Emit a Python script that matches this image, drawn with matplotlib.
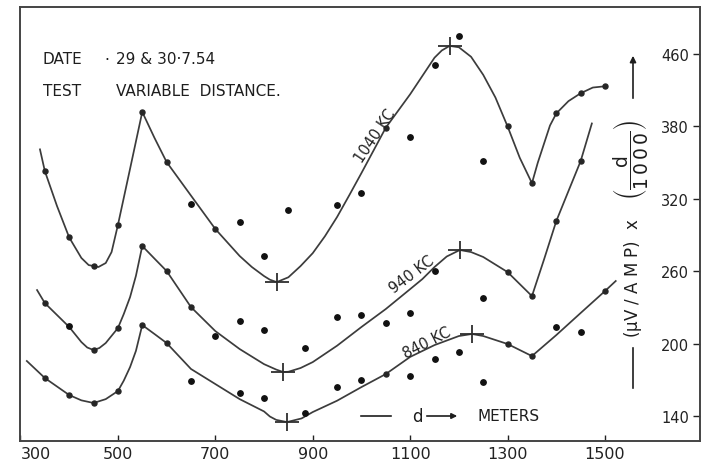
import numpy as np
import matplotlib
matplotlib.use("Agg")
import matplotlib.pyplot as plt
from matplotlib.path import Path

# ---------------- data ----------------
x_ticks = [300, 500, 700, 900, 1100, 1300, 1500]
y_ticks = [140, 200, 260, 320, 380, 460]

# 1040 KC smooth curve trace
x_1040 = [340, 350, 375, 400, 425, 440, 450, 460, 475, 487, 500, 525, 550, 575, 600,
          650, 700, 750, 775, 800, 812, 826, 850, 875, 900, 925, 950, 975, 1000, 1050,
          1100, 1150, 1165, 1181, 1200, 1225, 1250, 1275, 1300, 1325, 1350, 1362, 1375,
          1387, 1400, 1425, 1450, 1475, 1500]
y_1040 = [361, 343, 314, 288, 271, 265.1, 264.3, 263.5, 266.8, 275.9, 298.3, 345, 396,
          370.6, 350.5, 322.7, 295, 272.6, 263.5, 256, 253, 251, 255, 264.3, 275, 289,
          305, 323, 341.4, 379, 415.6, 456, 464, 469, 467.5, 457, 437, 412, 380, 354,
          333, 350, 366, 381, 394.4, 408, 416.7, 423, 424.4]
marks_1040 = [350, 400, 450, 500, 550, 600, 700, 1050, 1300, 1350, 1400, 1450, 1500]
pts_x_1040 = [650, 750, 800, 850, 950, 1000, 1100, 1150, 1200, 1250]
pts_y_1040 = [315.7, 300.8, 272.6, 310.7, 314.9, 324.8, 371.2, 447.8, 480, 351.3]

# 940 KC
x_940 = [334, 350, 400, 425, 437, 450, 462, 475, 500, 512, 525, 537, 550, 575, 600,
         650, 700, 750, 800, 825, 839, 850, 875, 900, 950, 1000, 1050, 1100, 1125,
         1150, 1175, 1202, 1225, 1250, 1300, 1350, 1375, 1400, 1425, 1450, 1473]
y_940 = [244.4, 233.6, 213.8, 201.3, 196.8, 194.7, 196.4, 200.5, 212.9, 224.5, 238.6,
         256.2, 280.9, 270.5, 260.2, 230.3, 210.4, 195.5, 183, 178.5, 176.5, 176.7,
         179.8, 184.7, 198.3, 213.8, 228.7, 245.2, 253.5, 263.5, 272.2, 277.6, 275.9,
         271.8, 259.3, 239.4, 270, 301.6, 326.5, 351.3, 383.3]
marks_940 = [350, 450, 500, 550, 600, 650, 1300, 1350, 1400, 1450]
pts_x_940 = [400, 700, 750, 800, 885, 950, 1000, 1050, 1100, 1150, 1250]
pts_y_940 = [214.6, 206.3, 218.7, 211.3, 196.4, 222, 223.7, 217, 225.4, 260.2, 237.8]

# 840 KC
x_840 = [313, 350, 400, 425, 450, 475, 500, 512, 525, 537, 550, 575, 600, 650, 700,
         750, 800, 812, 825, 847, 877, 900, 950, 1000, 1050, 1100, 1150, 1200, 1227,
         1250, 1300, 1350, 1400, 1450, 1500, 1522]
y_840 = [185.6, 171.5, 157.4, 153, 150.8, 154, 160.7, 169.3, 180.6, 194, 215.4, 208,
         200.5, 179, 166.5, 154, 143.8, 139.6, 136.8, 135, 138, 143.3, 152.7, 164, 174.8,
         189, 198.8, 206.3, 208, 206.3, 199.7, 189.7, 207.1, 225.4, 243.6, 251.9]
marks_840 = [350, 400, 450, 500, 550, 600, 1050, 1300, 1350, 1500]
pts_x_840 = [650, 750, 800, 885, 950, 1000, 1100, 1150, 1200, 1250, 1400, 1450]
pts_y_840 = [169, 159, 155, 142.5, 164, 169.8, 173, 187, 193, 168.2, 213.8, 209.6]

# extreme points marked with crosses
cross_x = [826, 1181, 839, 1202, 847, 1227]
cross_y = [251, 469, 176.5, 277.6, 135, 208]

curve_labels = ["1040 KC", "940 KC", "840 KC"]

# ---------------- figure ----------------
W, H = 708, 464
fig = plt.figure(figsize=(W / 100, H / 100), dpi=100)
AX_L, AX_R, AX_T, AX_B = 20, 700, 8, 442
ax = fig.add_axes([AX_L / W, (H - AX_B) / H, (AX_R - AX_L) / W, (AX_B - AX_T) / H])


def fwd(v):
    v = np.asarray(v, float)
    return np.where(v <= 380, (v - 140) / 60.0, 4 + (v - 380) / 80.0)


def inv(u):
    u = np.asarray(u, float)
    return np.where(u <= 4, 140 + 60.0 * u, 380 + 80.0 * (u - 4))


ax.set_yscale("function", functions=(fwd, inv))
ax.set_xlim(299, 1695)
ax.set_ylim(119.3, 512)

LINE = "#3c3c3c"
DOT = "#111111"

cross_marker = Path([(-1, 0), (1, 0), (0, -0.75), (0, 0.75)],
                    [Path.MOVETO, Path.LINETO, Path.MOVETO, Path.LINETO])

for xs, ys, mk, px, py in [(x_1040, y_1040, marks_1040, pts_x_1040, pts_y_1040),
                           (x_940, y_940, marks_940, pts_x_940, pts_y_940),
                           (x_840, y_840, marks_840, pts_x_840, pts_y_840)]:
    ax.plot(xs, ys, color=LINE, lw=1.25, solid_joinstyle="round", zorder=2)
    my = np.interp(mk, xs, ys)
    ax.plot(mk, my, "o", ms=3.6, color="#262626", zorder=3)
    ax.plot(px, py, "o", ms=3.9, color=DOT, zorder=3)

ax.plot(cross_x, cross_y, ls="none", marker=cross_marker, ms=17, mew=1.3,
        color="#2e2e2e", zorder=4)

# curve labels
lab_pos = [(1028, 373, 56), (1103, 257.5, 37), (1134, 201, 27)]
for lab, (lx, ly, rot) in zip(curve_labels, lab_pos):
    ax.text(lx, ly, lab, rotation=rot, rotation_mode="anchor", ha="center",
            va="center", fontsize=10.5, color="#222222")

# ticks
ax.set_xticks(x_ticks)
ax.set_xticklabels([str(v) for v in x_ticks])
ax.set_yticks(y_ticks)
ax.set_yticklabels([str(v) for v in y_ticks])
ax.yaxis.set_minor_locator(matplotlib.ticker.NullLocator())
ax.xaxis.set_minor_locator(matplotlib.ticker.NullLocator())
ax.yaxis.tick_right()
ax.tick_params(axis="x", direction="in", length=4, width=1, pad=3.5,
               labelsize=11.5, colors="#222222")
ax.tick_params(axis="y", direction="in", length=5, width=1, pad=-8,
               labelsize=10.5, colors="#222222")
for t in ax.get_yticklabels():
    t.set_horizontalalignment("right")
ax.get_xticklabels()[0].set_horizontalalignment("left")

for s in ax.spines.values():
    s.set_color("#444444")
    s.set_linewidth(1.4)


def fx(px):
    return (px - AX_L) / (AX_R - AX_L)


def fy(py):
    return (AX_B - py) / (AX_B - AX_T)


T = ax.transAxes
TXT = "#1e1e1e"
ax.text(fx(43), fy(59), "DATE", transform=T, fontsize=11, va="center", color=TXT)
ax.text(fx(104), fy(60), "·", transform=T, fontsize=11, va="center", color=TXT)
ax.text(fx(116), fy(59), "29 & 30·7.54", transform=T, fontsize=11, va="center", color=TXT)
ax.text(fx(43), fy(92), "TEST", transform=T, fontsize=11, va="center", color=TXT)
ax.text(fx(116), fy(92), "VARIABLE  DISTANCE.", transform=T, fontsize=11, va="center",
        color=TXT)

# distance arrow
ax.annotate("", xy=(fx(394), fy(417)), xytext=(fx(358), fy(417)), xycoords=T,
            textcoords=T, arrowprops=dict(arrowstyle="-", lw=1.2, color=TXT))
ax.text(fx(417), fy(417), "d", transform=T, fontsize=12, ha="center", va="center",
        color=TXT)
ax.annotate("", xy=(fx(460), fy(417)), xytext=(fx(424), fy(417)), xycoords=T,
            textcoords=T, arrowprops=dict(arrowstyle="-|>", lw=1.2, color=TXT,
                                          mutation_scale=8))
ax.text(fx(477), fy(417), "METERS", transform=T, fontsize=11, ha="left", va="center",
        color=TXT)

# right-hand quantity label
ax.annotate("", xy=(fx(633), fy(346)), xytext=(fx(633), fy(392)), xycoords=T,
            textcoords=T, arrowprops=dict(arrowstyle="-", lw=1.2, color=TXT))
ax.text(fx(633), fy(289), r"$($" + "μV / A M P" + r"$)$",
        transform=T, rotation=90, ha="center", va="center", fontsize=12, color=TXT)
ax.text(fx(633), fy(224), "x", transform=T, rotation=90, ha="center", va="center",
        fontsize=12, color=TXT)
ax.text(fx(631), fy(160),
        r"$\left(\dfrac{\mathrm{d}}{1\,0\,0\,0}\right)$",
        transform=T, rotation=90, ha="center", va="center", fontsize=13.5, color=TXT)
ax.annotate("", xy=(fx(633), fy(54)), xytext=(fx(633), fy(102)), xycoords=T,
            textcoords=T, arrowprops=dict(arrowstyle="-|>", lw=1.2, color=TXT,
                                          mutation_scale=9))

fig.savefig("out.png", dpi=100, facecolor="white")
